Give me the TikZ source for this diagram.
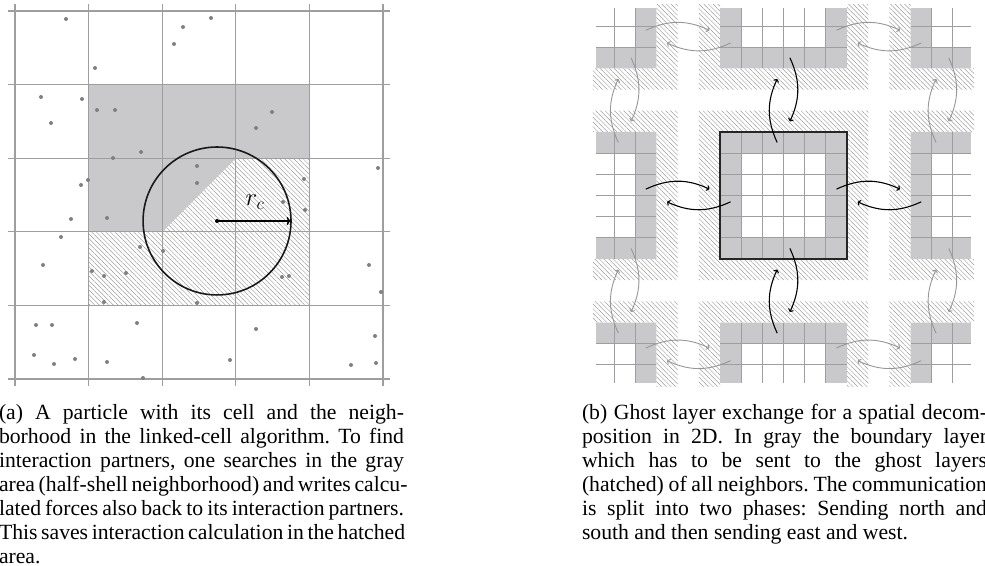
\documentclass[tikz,border=0pt]{standalone}
\usepackage{fontspec}
\setmainfont{Liberation Serif}
\usetikzlibrary{patterns.meta,arrows.meta}
\definecolor{cellgray}{RGB}{201,201,203}
\definecolor{linegray}{RGB}{158,158,158}
\definecolor{dotgray}{RGB}{128,128,128}
\definecolor{hatchgray}{RGB}{158,158,158}
\definecolor{arrgray}{RGB}{150,150,150}
\tikzset{
  hatch/.style={pattern={Lines[angle=-45,distance=3.3pt,line width=0.5pt]},pattern color=hatchgray},
  gridl/.style={linegray,line width=1.2pt},
  rgridl/.style={linegray,line width=1.0pt},
  barrow/.style={-{To[length=3pt,width=6pt]},line width=1.1pt,black},
  garrow/.style={-{To[length=3pt,width=6pt]},line width=0.9pt,arrgray},
  particle/.style={fill=dotgray},
  captext/.style={anchor=base west,inner sep=0pt,outer sep=0pt,font=\fontsize{21.7}{24}\selectfont\frenchspacing}
}
\newcommand\capline[1]{\hbox to 405pt{#1}}
\begin{document}
\begin{tikzpicture}[x=1pt,y=-1pt]
\useasboundingbox (0,0) rectangle (985,565);
% ---------------- left panel ----------------
\begin{scope}[shift={(15pt,-11pt)},x=73.6pt,y=-73.6pt]
  \fill[cellgray] (1,1) -- (4,1) -- (4,2) -- (3,2) -- (2,3) -- (1,3) -- cycle;
  \fill[hatch] (3,2) -- (4,2) -- (4,4) -- (1,4) -- (1,3) -- (2,3) -- cycle;
  \foreach \i in {0,...,5} {
    \draw[gridl] (\i,-0.095) -- (\i,5.095);
    \draw[gridl] (-0.095,\i) -- (5.095,\i);
  }
\end{scope}
\foreach \px/\py in {66/19,183/27,211/18,174/44,95/68,41/97,82/99,97/110,115/110,51/123,272/112,256/128,141/152,113/158,197/166,197/183,81/185,88/180,304/179,283/202,305/210,71/219,107/218,61/237,140/247,163/251,43/265,92/271,104/276,126/273,282/277,289/276,104/302,197/303,36/325,52/325,137/323,256/329,34/355,54/364,75/359,107/362,230/360,143/378,378/168,369/265,381/292,375/336,351/365,376/363}
  \fill[particle] (\px,\py) circle[radius=2pt];
\begin{scope}[shift={(15pt,-11pt)},x=73.6pt,y=-73.6pt]
  \coordinate (p) at (2.745,2.853);
  \coordinate (q) at (3.745,2.853);
  \draw[line width=1.6pt,black!90] (p) circle[radius=1.005];
  \fill[black] (p) circle[radius=2pt];
  \draw[-{To[length=4pt,width=8pt]},line width=1.5pt] (p) -- (q);
  \node[inner sep=0pt] (rc) at (3.26,2.6) {\fontsize{25}{30}\selectfont$r_c$};
\end{scope}
% ---------------- right panel ----------------
\begin{scope}[shift={(720pt,-259pt)},x=21.18pt,y=21.18pt]
  \begin{scope}
    \clip (-6,-6) rectangle (12,12);
    \foreach \X in {-9,0,9} \foreach \Y in {-9,0,9} {
      \fill[hatch,even odd rule] (\X-1,\Y-1) rectangle (\X+7,\Y+7) (\X,\Y) rectangle (\X+6,\Y+6);
    }
  \end{scope}
  \begin{scope}
    \clip (-5.85,-5.85) rectangle (11.85,11.85);
    \foreach \X in {-9,0,9} \foreach \Y in {-9,0,9} {
      \fill[cellgray,even odd rule] (\X,\Y) rectangle (\X+6,\Y+6) (\X+1,\Y+1) rectangle (\X+5,\Y+5);
      \draw[rgridl,step=1] (\X+0.001,\Y+0.001) grid (\X+5.999,\Y+5.999);
    }
  \end{scope}
  \draw[line width=1.3pt,black!85] (0,0) rectangle (6,6);
  \foreach \cy/\sty in {10.5/garrow,3/barrow,-4.5/garrow}
    \foreach \X in {-9,0} {
      \draw[\sty] (\X+5.5,\cy+0.3) to[bend left=25] (\X+8.5,\cy+0.3);
      \draw[\sty] (\X+9.5,\cy-0.3) to[bend left=25] (\X+6.5,\cy-0.3);
    }
  \foreach \cx/\sty in {-4.5/garrow,3/barrow,10.5/garrow}
    \foreach \Y in {-9,0} {
      \draw[\sty] (\cx-0.3,\Y+5.5) to[bend left=25] (\cx-0.3,\Y+8.5);
      \draw[\sty] (\cx+0.3,\Y+9.5) to[bend left=25] (\cx+0.3,\Y+6.5);
    }
\end{scope}
% ---------------- captions ----------------
\node[captext] (capa) at (-1,419) {\vtop{\baselineskip=24pt
  \capline{(a) A particle with its cell and the neigh-}
  \capline{borhood in the linked-cell algorithm. To find}
  \capline{interaction partners, one searches in the gray}
  \capline{area (half-shell neighborhood) and writes calcu-}
  \capline{lated forces also back to its interaction partners.}
  \capline{This saves interaction calculation in the hatched}
  \hbox{area.}}};
\node[captext] (capb) at (582,419) {\vtop{\baselineskip=24pt
  \capline{(b) Ghost layer exchange for a spatial decom-}
  \capline{position in 2D. In gray the boundary layer}
  \capline{which has to be sent to the ghost layers}
  \capline{(hatched) of all neighbors. The communication}
  \capline{is split into two phases: Sending north and}
  \hbox{south and then sending east and west.}}};
\end{tikzpicture}
\end{document}
